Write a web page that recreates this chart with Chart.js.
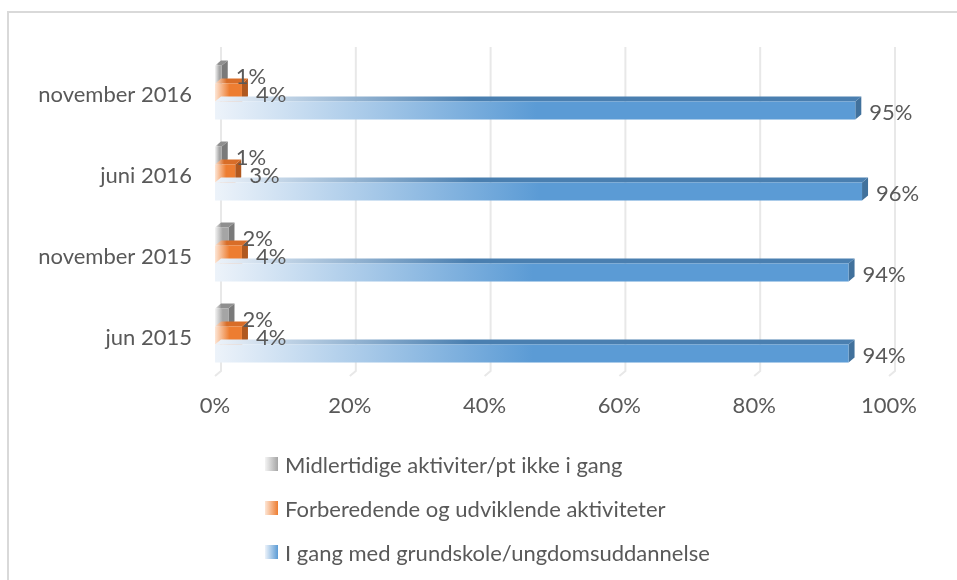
<!DOCTYPE html>
<html>
<head>
<meta charset="utf-8">
<script src="https://cdn.jsdelivr.net/npm/chart.js@4.4.1/dist/chart.umd.min.js"></script>
<style>
    body { margin: 0; background: #ffffff; }
    #wrap { position: relative; width: 957px; height: 580px; overflow: hidden; }
    #frame { position: absolute; left: 7px; top: 11px; width: 1000px; height: 700px;
             border-top: 2px solid #d9d9d9; border-left: 2px solid #d9d9d9; }
    #legend { position: absolute; left: 265px; top: 0; font-family: Lato, sans-serif;
              font-size: 22px; color: #595959; }
    .item { position: absolute; left: 0; white-space: nowrap; display: flex; align-items: center; }
    .box { width: 13px; height: 14px; margin-right: 7px; }
</style>
</head>
<body>
<div id="wrap">
    <div id="frame"></div>
    <canvas id="chart" width="957" height="580"></canvas>
    <div id="legend"></div>
</div>
<script>
// --- Data ---
const categories = ['november 2016', 'juni 2016', 'november 2015', 'jun 2015'];
const seriesNames = [
    'Midlertidige aktiviter/pt ikke i gang',
    'Forberedende og udviklende aktiviteter',
    'I gang med grundskole/ungdomsuddannelse'
];
const midlertidige = [1, 1, 2, 2];
const forberedende = [4, 3, 4, 4];
const iGang = [95, 96, 94, 94];
const xTicks = [0, 20, 40, 60, 80, 100];

// --- Colours per series: light end of gradient, front, top, side ---
const palette = [
    { light: '#f4f4f4', front: '#a5a5a5', top: '#8f8f8f', side: '#7a7a7a' },
    { light: '#fde6d6', front: '#ed7d31', top: '#d86d28', side: '#b0581f' },
    { light: '#edf3fa', front: '#5b9bd5', top: '#4a7fb0', side: '#41719c' }
];
const textColor = '#595959';
const DX = 6, DY = -5; // depth of the 3D boxes

// --- Gridlines with a small floor foot, drawn behind the bars ---
const gridPlugin = {
    id: 'grid3d',
    beforeDatasetsDraw(chart) {
        const { ctx, chartArea, scales } = chart;
        ctx.save();
        ctx.strokeStyle = '#e8e8e8';
        ctx.lineWidth = 2;
        xTicks.forEach(v => {
            const px = scales.x.getPixelForValue(v);
            ctx.beginPath();
            ctx.moveTo(px + DX, chartArea.top + DY);
            ctx.lineTo(px + DX, chartArea.bottom + DY);
            ctx.lineTo(px, chartArea.bottom);
            ctx.stroke();
        });
        ctx.restore();
    }
};

// --- 3D bars and value labels ---
const barsPlugin = {
    id: 'bars3d',
    afterDatasetsDraw(chart) {
        const ctx = chart.ctx;
        const metas = chart.data.datasets.map((d, i) => chart.getDatasetMeta(i));
        ctx.save();
        categories.forEach((c, i) => {
            metas.forEach((meta, d) => {
                const bar = meta.data[i].getProps(['x', 'y', 'base', 'height'], true);
                const col = palette[d];
                const top = bar.y - bar.height / 2;
                const bottom = bar.y + bar.height / 2;
                const len = bar.x - bar.base;

                // right face
                ctx.fillStyle = col.side;
                ctx.beginPath();
                ctx.moveTo(bar.x, top);
                ctx.lineTo(bar.x + DX, top + DY);
                ctx.lineTo(bar.x + DX, bottom + DY);
                ctx.lineTo(bar.x, bottom);
                ctx.closePath();
                ctx.fill();

                // top face
                const gTop = ctx.createLinearGradient(bar.base, 0, bar.base + len * 0.4 + 1, 0);
                gTop.addColorStop(0, col.light);
                gTop.addColorStop(1, col.top);
                ctx.fillStyle = gTop;
                ctx.beginPath();
                ctx.moveTo(bar.base, top);
                ctx.lineTo(bar.x, top);
                ctx.lineTo(bar.x + DX, top + DY);
                ctx.lineTo(bar.base + DX, top + DY);
                ctx.closePath();
                ctx.fill();

                // front face
                const gFront = ctx.createLinearGradient(bar.base, 0, bar.base + len * 0.5 + 1, 0);
                gFront.addColorStop(0, col.light);
                gFront.addColorStop(1, col.front);
                ctx.fillStyle = gFront;
                ctx.fillRect(bar.base, top, len, bottom - top);
            });
        });

        // value labels on top of everything
        ctx.fillStyle = textColor;
        ctx.font = '22px Lato';
        ctx.textAlign = 'left';
        ctx.textBaseline = 'middle';
        metas.forEach((meta, d) => {
            const values = chart.data.datasets[d].data;
            meta.data.forEach((el, i) => {
                const bar = el.getProps(['x', 'y'], true);
                ctx.fillText(values[i] + '%', bar.x + DX + 8, bar.y + 2);
            });
        });
        ctx.restore();
    }
};

new Chart(document.getElementById('chart'), {
    type: 'bar',
    data: {
        labels: categories,
        datasets: [
            { label: seriesNames[0], data: midlertidige, backgroundColor: 'rgba(0,0,0,0)' },
            { label: seriesNames[1], data: forberedende, backgroundColor: 'rgba(0,0,0,0)' },
            { label: seriesNames[2], data: iGang, backgroundColor: 'rgba(0,0,0,0)' }
        ]
    },
    options: {
        indexAxis: 'y',
        responsive: false,
        animation: false,
        devicePixelRatio: 1,
        categoryPercentage: 0.667,
        barPercentage: 1,
        layout: { padding: { left: 0, right: 68, top: 52, bottom: 144 } },
        plugins: { legend: { display: false }, tooltip: { enabled: false } },
        scales: {
            x: {
                min: 0, max: 100,
                afterBuildTicks: scale => { scale.ticks = xTicks.map(v => ({ value: v })); },
                afterFit: scale => { scale.height = 60; },
                grid: { display: false, drawTicks: false },
                border: { display: false },
                ticks: {
                    padding: 17,
                    color: textColor,
                    font: { family: 'Lato', size: 22 },
                    maxRotation: 0,
                    callback: v => v + '%'
                }
            },
            y: {
                afterFit: scale => { scale.width = 215; },
                grid: { display: false, drawTicks: false },
                border: { display: false },
                ticks: {
                    padding: 23,
                    labelOffset: 2,
                    color: textColor,
                    font: { family: 'Lato', size: 22 }
                }
            }
        }
    },
    plugins: [gridPlugin, barsPlugin]
});

// --- Legend below the plot, one row per series ---
const legendRows = [464, 508, 552];
const legend = document.getElementById('legend');
seriesNames.forEach((name, i) => {
    const row = document.createElement('div');
    row.className = 'item';
    row.style.top = (legendRows[i] - 13) + 'px';
    row.style.height = '26px';
    const box = document.createElement('span');
    box.className = 'box';
    box.style.background = `linear-gradient(to right, ${palette[i].light}, ${palette[i].front})`;
    const label = document.createElement('span');
    label.textContent = name;
    row.appendChild(box);
    row.appendChild(label);
    legend.appendChild(row);
});
</script>
</body>
</html>
